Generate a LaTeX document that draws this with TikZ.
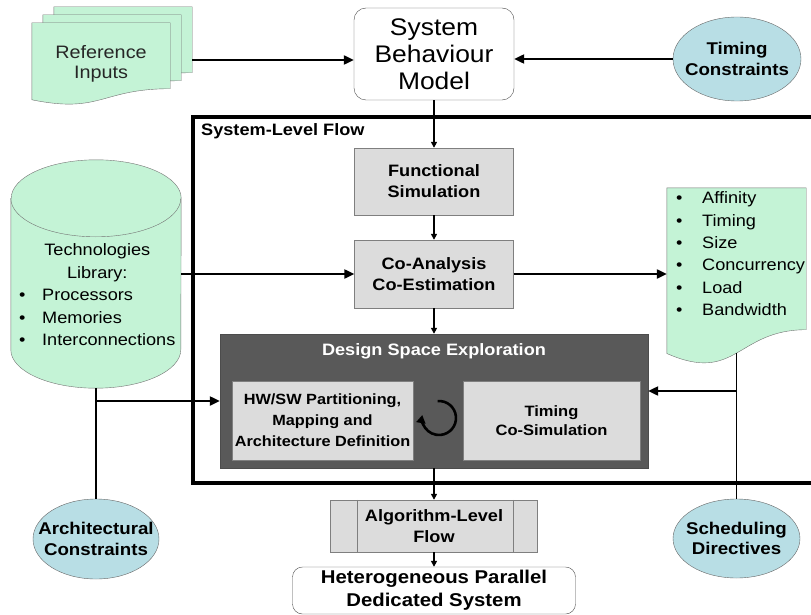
\documentclass[tikz,border=0pt]{standalone}
\usepackage{fontspec}
\setmainfont[FakeStretch=1.1]{Liberation Sans}
\usepackage{tikz}
\usetikzlibrary{shapes.geometric, calc, arrows.meta, backgrounds}
\definecolor{docgreen}{HTML}{C4F3D6}
\definecolor{ellblue}{HTML}{B8DEE5}
\definecolor{boxgrey}{HTML}{DCDCDC}
\definecolor{dsegrey}{HTML}{595959}
\definecolor{edgegrey}{HTML}{7F7F7F}
\newcommand{\fsz}[2]{\fontsize{#1}{#2}\selectfont}
\tikzset{
  flowbox/.style={draw=edgegrey, fill=boxgrey, align=center, inner sep=0pt, font=\bfseries\fsz{16.5}{21}},
  roundbox/.style={draw=black!70, fill=white, rounded corners=12pt, align=center, inner sep=0pt},
  ellbox/.style={ellipse, draw=black!60, fill=ellblue, inner sep=0pt},
  elltext/.style={align=center, inner sep=0pt, font=\bfseries\fsz{17}{20.5}},
  docbox/.style={inner sep=0pt},
  docline/.style={draw=black!55, fill=docgreen},
  bigarrow/.style={-{Triangle[length=10pt,width=9pt]}, line width=2.2pt},
  smallarrow/.style={-{Triangle[length=6pt,width=6pt]}, line width=1.8pt},
  link/.style={line width=1.8pt},
}
\newcommand{\docshape}[1]{%
  \draw[docline] (#1.north west) -- (#1.north east) -- ($(#1.north east)!0.8!(#1.south east)$)
    .. controls ($(#1.north)!0.8!(#1.south)$) and ($(#1.north)!1.107!(#1.south)$) .. ($(#1.north west)!0.934!(#1.south west)$) -- cycle;}

\begin{document}
\begin{tikzpicture}[x=1pt, y=-1pt]
\useasboundingbox (0,0) rectangle (811,615);

\node[docbox, minimum width=138pt, minimum height=82pt] (refin1) at (123,48) {};
\node[docbox, minimum width=138pt, minimum height=82pt] (refin2) at (112,56) {};
\node[docbox, minimum width=138pt, minimum height=82pt, align=center, font=\fsz{18}{20}, text=black!85] (refin) at (101,64) {Reference\\Inputs};
\node[roundbox, minimum width=160pt, minimum height=92pt, font=\fsz{24}{27}] (sbm) at (434,54) {System\\Behaviour\\Model};
\node[ellbox, minimum width=128pt, minimum height=84pt] (tc) at (737,59) {};
\node[elltext] (tctxt) at (tc) {Timing\\Constraints};

\draw[line width=3.5pt] (815,117) -- (193,117) -- (193,483) -- (815,483);
\node[anchor=west, inner sep=0pt, font=\bfseries\fsz{16.5}{20}] (slf) at (201,131) {System-Level Flow};

\node[flowbox, minimum width=159pt, minimum height=67pt] (func) at (434,181.5) {Functional\\Simulation};
\node[flowbox, minimum width=159pt, minimum height=68pt] (coa) at (434,274) {Co-Analysis\\Co-Estimation};

\node[docbox, minimum width=139pt, minimum height=177pt] (list) at (736.5,276.5) {};
\node[anchor=north west, inner sep=0pt, font=\fsz{16.5}{22.3}] (listtxt) at (676,188) {%
  \begin{tabular}{@{}p{26pt}@{}l@{}}
  \textbullet & Affinity\\
  \textbullet & Timing\\
  \textbullet & Size\\
  \textbullet & Concurrency\\
  \textbullet & Load\\
  \textbullet & Bandwidth
  \end{tabular}};

\node[docbox, minimum width=170pt, minimum height=228pt] (techlib) at (96,274) {};
\node[anchor=north west, inner sep=0pt, font=\fsz{16.5}{22.5}] (techtxt) at (19,240) {%
  \begin{tabular}{@{}p{23pt}@{}l@{}}
  \multicolumn{2}{c}{Technologies}\\
  \multicolumn{2}{c}{Library:}\\
  \textbullet & Processors\\
  \textbullet & Memories\\
  \textbullet & Interconnections
  \end{tabular}};

\node[fill=dsegrey, draw=black!70, minimum width=428pt, minimum height=134pt, inner sep=0pt] (dse) at (434,401) {};
\node[text=white, inner sep=0pt, font=\bfseries\fsz{16.5}{20}] (dsetxt) at (434,351) {Design Space Exploration};
\node[flowbox, minimum width=181pt, minimum height=79pt, font=\bfseries\fsz{14.8}{21}] (hwsw) at (322.5,420.5) {HW/SW Partitioning,\\Mapping and\\Architecture Definition};
\node[flowbox, minimum width=177pt, minimum height=79pt, font=\bfseries\fsz{15}{19}] (tcosim) at (551.5,420.5) {Timing\\Co-Simulation};
\coordinate (cyc) at (439,418);
\draw[-{Triangle[length=8pt,width=9pt]}, line width=2.6pt] ([shift={(95:17pt)}]cyc) arc[start angle=95, end angle=-190, radius=17pt];

\node[flowbox, minimum width=207pt, minimum height=52pt] (alf) at (434,526) {Algorithm-Level\\Flow};
\draw[edgegrey] ([xshift=27pt]alf.north west) -- ([xshift=27pt]alf.south west);
\draw[edgegrey] ([xshift=-25pt]alf.north east) -- ([xshift=-25pt]alf.south east);
\node[roundbox, rounded corners=10pt, minimum width=283pt, minimum height=47pt, font=\bfseries\fsz{18.5}{23}] (hpds) at (434,590.5) {Heterogeneous Parallel\\Dedicated System};

\node[ellbox, minimum width=126pt, minimum height=80pt] (arch) at (96,539) {};
\node[elltext] (archtxt) at (arch) {Architectural\\Constraints};
\node[ellbox, minimum width=127pt, minimum height=79pt] (sched) at (736.5,538.5) {};
\node[elltext] (schedtxt) at (sched) {Scheduling\\Directives};

\begin{scope}[on background layer]
\docshape{refin1}
\docshape{refin2}
\docshape{refin}
\docshape{list}
\draw[docline] ([yshift=-38.5pt]techlib.north west) -- ([yshift=38.5pt]techlib.south west)
  arc[start angle=180, end angle=360, x radius=85pt, y radius=38.5pt]
  -- ([yshift=-38.5pt]techlib.north east)
  arc[start angle=0, end angle=180, x radius=85pt, y radius=38.5pt] -- cycle;
\draw[black!55] ([yshift=-38.5pt]techlib.north west) arc[start angle=180, end angle=360, x radius=85pt, y radius=38.5pt];
\end{scope}

\draw[bigarrow] ([yshift=-12pt]refin1.east) -- ([yshift=-12pt]refin1.east -| sbm.west);
\draw[bigarrow] (tc.west) -- (tc.west -| sbm.east);
\draw[smallarrow] (sbm.south) -- (func.north);
\draw[smallarrow] (func.south) -- (coa.north);
\draw[bigarrow] (coa.east) -- (coa.east -| list.west);
\draw[bigarrow] (techlib.east |- coa.west) -- (coa.west);
\draw[smallarrow] (coa.south) -- (dse.north);
\draw[link] (techlib.south) -- (arch.north);
\draw[bigarrow] (techlib.south |- dse.west) -- (dse.west);
\draw[link] ([yshift=12pt]list.south) -- (sched.north);
\coordinate (schj) at (736.5,391);
\draw[bigarrow] (schj) -- (schj -| dse.east);
\draw[smallarrow] (dse.south) -- (alf.north);
\draw[smallarrow] (alf.south) -- (hpds.north);
\end{tikzpicture}
\end{document}
